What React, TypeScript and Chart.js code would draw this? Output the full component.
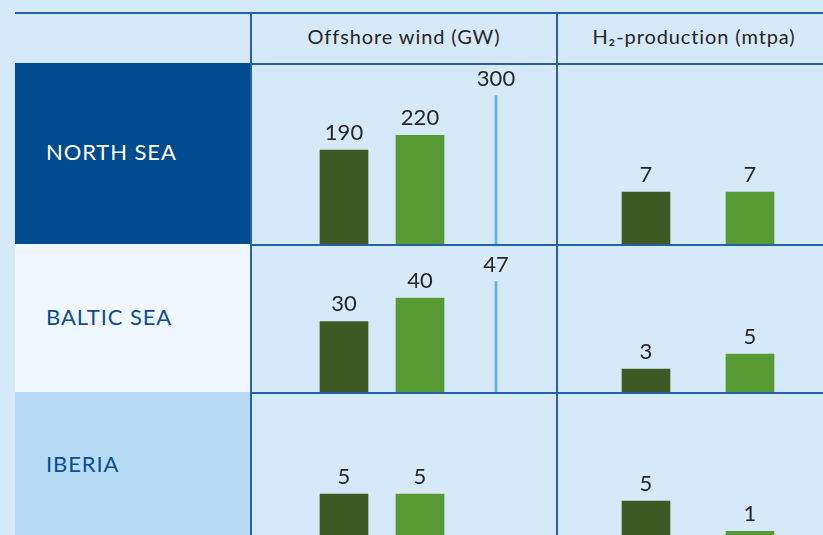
import React, { useEffect, useRef } from "react";
import { Chart, registerables } from "chart.js";

Chart.register(...registerables);

// ---- data ----
const regions = ["NORTH SEA", "BALTIC SEA", "IBERIA"];
const columnTitles = ["Offshore wind (GW)", "H\u2082-production (mtpa)"];
const windCategories = ["First", "Second", "Target"];
const windFirst = [190, 30, 5];
const windSecond = [220, 40, 5];
const windTarget: (number | null)[] = [300, 47, null];
const windAxisMax = [362, 62.1, 16.1];
const h2Categories = ["First", "Second"];
const h2First = [7, 3, 5];
const h2Second = [7, 5, 1];
const h2AxisMax = [24.1, 19.2, 19.1];

// ---- styles ----
const BG = "#d6e9f8";
const LINE = "#2461a8";
const DARK_GREEN = "#3d5a25";
const LIGHT_GREEN = "#569a33";
const TARGET_BLUE = "#5cb5e8";
const REGION_FILLS = ["#004a8e", "#f0f7fe", "#b8dbf5"];
const REGION_TEXT = ["#ffffff", "#0b4d93", "#0b4d93"];
const FONT = "Lato, 'Noto Sans', sans-serif";

const rowTops = [65, 246, 394];
const rowHeights = [179, 146, 145];

const valueLabels = {
  id: "valueLabels",
  afterDatasetsDraw(chart: any) {
    const ctx = chart.ctx;
    ctx.save();
    ctx.font = "22px " + FONT;
    ctx.fillStyle = "#262626";
    ctx.textAlign = "center";
    ctx.textBaseline = "alphabetic";
    chart.data.datasets.forEach((ds: any, i: number) => {
      const meta = chart.getDatasetMeta(i);
      meta.data.forEach((el: any, j: number) => {
        const v = ds.data[j];
        if (v == null) return;
        ctx.fillText(String(v), el.x, el.y - 10);
      });
    });
    ctx.restore();
  },
};

function CellChart(props: {
  width: number;
  height: number;
  labels: string[];
  datasets: any[];
  max: number;
  padLeft: number;
  padRight: number;
}) {
  const ref = useRef<HTMLCanvasElement | null>(null);
  useEffect(() => {
    if (!ref.current) return;
    const chart = new Chart(ref.current, {
      type: "bar",
      data: { labels: props.labels, datasets: props.datasets },
      options: {
        animation: false,
        responsive: false,
        devicePixelRatio: 1,
        layout: { padding: { left: props.padLeft, right: props.padRight, top: 0, bottom: 0 } },
        plugins: { legend: { display: false }, tooltip: { enabled: false } },
        scales: {
          x: { display: false, offset: true, grid: { display: false } },
          y: { display: false, min: 0, max: props.max, grid: { display: false } },
        },
      },
      plugins: [valueLabels],
    });
    return () => chart.destroy();
  }, []);
  return (
    <canvas
      ref={ref}
      width={props.width}
      height={props.height}
      style={{ display: "block", width: props.width, height: props.height }}
    />
  );
}

export default function App() {
  const abs = (s: React.CSSProperties): React.CSSProperties => ({ position: "absolute", ...s });
  const headerStyle = (left: number, width: number) =>
    abs({
      left,
      top: 11,
      width,
      height: 49,
      display: "flex",
      alignItems: "center",
      justifyContent: "center",
      fontSize: 20,
      letterSpacing: 0.9,
      color: "#262626",
      whiteSpace: "nowrap",
    });
  return (
    <div
      style={{
        position: "absolute",
        left: 0,
        top: 0,
        width: 823,
        height: 535,
        overflow: "hidden",
        background: BG,
        fontFamily: FONT,
      }}
    >
      {/* region cells */}
      {regions.map((r, i) => (
        <div
          key={r}
          style={abs({
            left: 15,
            top: rowTops[i] - 2,
            width: 235,
            height: rowHeights[i] + 2,
            background: REGION_FILLS[i],
          })}
        >
          <div
            style={abs({
              left: 31,
              top: -2,
              height: rowHeights[i] + 2,
              display: "flex",
              alignItems: "center",
              color: REGION_TEXT[i],
              fontSize: 22,
              letterSpacing: 0.9,
              whiteSpace: "nowrap",
            })}
          >
            {r}
          </div>
        </div>
      ))}

      {/* header titles */}
      <div style={headerStyle(252, 304)}>{columnTitles[0]}</div>
      <div style={headerStyle(558, 272)}>{columnTitles[1]}</div>

      {/* charts */}
      {regions.map((r, i) => (
        <React.Fragment key={"c" + r}>
          <div style={abs({ left: 252, top: rowTops[i], width: 304, height: rowHeights[i] })}>
            <CellChart
              width={304}
              height={rowHeights[i]}
              labels={windCategories}
              max={windAxisMax[i]}
              padLeft={54}
              padRight={22}
              datasets={[
                {
                  data: [windFirst[i], windSecond[i], null],
                  backgroundColor: [DARK_GREEN, LIGHT_GREEN, LIGHT_GREEN],
                  barThickness: 48,
                  grouped: false,
                  borderWidth: 0,
                },
                {
                  data: [null, null, windTarget[i]],
                  backgroundColor: TARGET_BLUE,
                  barThickness: 2,
                  grouped: false,
                  borderWidth: 0,
                },
              ]}
            />
          </div>
          <div style={abs({ left: 558, top: rowTops[i], width: 272, height: rowHeights[i] })}>
            <CellChart
              width={272}
              height={rowHeights[i]}
              labels={h2Categories}
              max={h2AxisMax[i]}
              padLeft={36}
              padRight={28}
              datasets={[
                {
                  data: [h2First[i], h2Second[i]],
                  backgroundColor: [DARK_GREEN, LIGHT_GREEN],
                  barThickness: 48,
                  borderWidth: 0,
                },
              ]}
            />
          </div>
        </React.Fragment>
      ))}

      {/* grid lines */}
      <div style={abs({ left: 15, top: 12, width: 820, height: 2, background: LINE })} />
      <div style={abs({ left: 250, top: 12, width: 2, height: 540, background: LINE })} />
      <div style={abs({ left: 556, top: 12, width: 2, height: 540, background: LINE })} />
      <div style={abs({ left: 250, top: 63, width: 600, height: 2, background: LINE })} />
      <div style={abs({ left: 250, top: 244, width: 600, height: 2, background: LINE })} />
      <div style={abs({ left: 250, top: 392, width: 600, height: 2, background: LINE })} />
    </div>
  );
}
